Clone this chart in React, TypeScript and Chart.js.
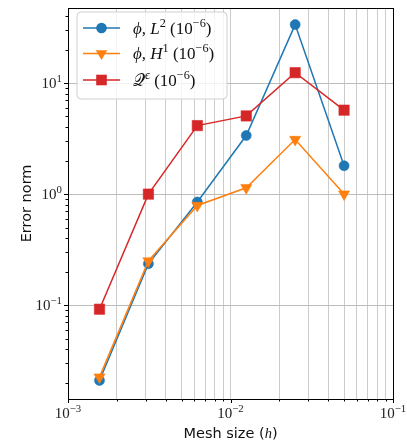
import React, { useEffect, useRef } from 'react';
import { Chart, registerables } from 'chart.js';

Chart.register(...registerables);

// ---- data ----
const meshSizes = [0.0015625, 0.003125, 0.00625, 0.0125, 0.025, 0.05];
const phiL2 = [0.021, 0.236, 0.85, 3.37, 33.6, 1.8];
const phiH1 = [0.0225, 0.25, 0.79, 1.14, 3.1, 1.0];
const qEps = [0.092, 1.0, 4.14, 5.06, 12.4, 5.7];

const xMajorExps = [-3, -2, -1];
const yMajorExps = [-1, 0, 1];
const xRange = [1e-3, 1e-1];
const yRange = [0.0143, 47.5];

const seriesColors = ['#1f77b4', '#ff7f0e', '#d62728'];

type Seg = { t: string; it?: boolean; sup?: boolean; sans?: boolean };

const legendLabels: Seg[][] = [
  [{ t: 'ϕ', it: true }, { t: ', ' }, { t: 'L', it: true }, { t: '2', sup: true }, { t: ' (10' }, { t: '−6', sup: true }, { t: ')' }],
  [{ t: 'ϕ', it: true }, { t: ', ' }, { t: 'H', it: true }, { t: '1', sup: true }, { t: ' (10' }, { t: '−6', sup: true }, { t: ')' }],
  [{ t: '𝒬', it: false }, { t: 'ϵ', sup: true, it: true }, { t: ' (10' }, { t: '−6', sup: true }, { t: ')' }],
];
const xTitle: Seg[] = [{ t: 'Mesh size (', sans: true }, { t: 'h', it: true }, { t: ')', sans: true }];
const yTitle = 'Error norm';

const SERIF = "'Liberation Serif', 'DejaVu Serif', serif";
const SANS = "'DejaVu Sans', sans-serif";

function minorValues(exps: number[]) {
  const out: number[] = [];
  for (let i = 0; i < exps.length - 1; i++) {
    for (let m = 2; m <= 9; m++) out.push(m * Math.pow(10, exps[i]));
  }
  return out;
}

function segFont(s: Seg, size: number) {
  const sz = s.sup ? size * 0.72 : size;
  return `${s.it ? 'italic ' : ''}${sz}px ${s.sans ? SANS : SERIF}`;
}

function drawSegs(ctx: CanvasRenderingContext2D, segs: Seg[], x: number, y: number, size: number, align: 'left' | 'center' | 'right') {
  ctx.save();
  ctx.textAlign = 'left';
  ctx.textBaseline = 'alphabetic';
  let w = 0;
  const widths = segs.map((s) => {
    ctx.font = segFont(s, size);
    const m = ctx.measureText(s.t).width;
    w += m;
    return m;
  });
  let cx = align === 'center' ? x - w / 2 : align === 'right' ? x - w : x;
  segs.forEach((s, i) => {
    ctx.font = segFont(s, size);
    ctx.fillText(s.t, cx, y - (s.sup ? size * 0.4 : 0));
    cx += widths[i];
  });
  ctx.restore();
}

function powSegs(e: number): Seg[] {
  return [{ t: '10' }, { t: String(e).replace('-', '−'), sup: true }];
}

function drawMarker(ctx: CanvasRenderingContext2D, kind: number, x: number, y: number, color: string) {
  ctx.save();
  ctx.fillStyle = color;
  ctx.strokeStyle = color;
  ctx.beginPath();
  if (kind === 0) {
    ctx.arc(x, y, 5.3, 0, Math.PI * 2);
  } else if (kind === 1) {
    const r = 6.6;
    ctx.moveTo(x, y + r);
    ctx.lineTo(x - r * 0.866, y - r / 2);
    ctx.lineTo(x + r * 0.866, y - r / 2);
    ctx.closePath();
  } else {
    ctx.rect(x - 5.3, y - 5.3, 10.6, 10.6);
  }
  ctx.fill();
  ctx.restore();
}

const decorPlugin = {
  id: 'decor',
  afterDraw(chart: any) {
    const ctx: CanvasRenderingContext2D = chart.ctx;
    const { left, right, top, bottom } = chart.chartArea;
    const xs = chart.scales.x;
    const ys = chart.scales.y;

    ctx.save();
    // frame
    ctx.strokeStyle = '#000';
    ctx.lineWidth = 1;
    ctx.strokeRect(Math.round(left) + 0.5, Math.round(top) + 0.5, Math.round(right - left), Math.round(bottom - top));

    // tick marks
    ctx.beginPath();
    xMajorExps.forEach((e) => {
      const px = Math.round(xs.getPixelForValue(Math.pow(10, e))) + 0.5;
      ctx.moveTo(px, bottom);
      ctx.lineTo(px, bottom + 4);
    });
    minorValues(xMajorExps).forEach((v) => {
      const px = Math.round(xs.getPixelForValue(v)) + 0.5;
      ctx.moveTo(px, bottom);
      ctx.lineTo(px, bottom + 2.5);
    });
    const yMinorExps = [-2, -1, 0, 1, 2];
    yMajorExps.forEach((e) => {
      const py = Math.round(ys.getPixelForValue(Math.pow(10, e))) + 0.5;
      ctx.moveTo(left, py);
      ctx.lineTo(left - 4, py);
    });
    minorValues(yMinorExps).forEach((v) => {
      if (v < yRange[0] || v > yRange[1]) return;
      const py = Math.round(ys.getPixelForValue(v)) + 0.5;
      ctx.moveTo(left, py);
      ctx.lineTo(left - 2.5, py);
    });
    ctx.stroke();

    // tick labels
    ctx.fillStyle = '#222';
    xMajorExps.forEach((e) => {
      const px = xs.getPixelForValue(Math.pow(10, e));
      drawSegs(ctx, powSegs(e), px, bottom + 19, 15, 'center');
    });
    yMajorExps.forEach((e) => {
      const py = ys.getPixelForValue(Math.pow(10, e));
      drawSegs(ctx, powSegs(e), left - 6, py + 5, 15, 'right');
    });

    // axis titles
    ctx.fillStyle = '#111';
    drawSegs(ctx, xTitle, (left + right) / 2, bottom + 39, 14.5, 'center');
    ctx.save();
    ctx.translate(27, (top + bottom) / 2);
    ctx.rotate(-Math.PI / 2);
    ctx.font = `14.5px ${SANS}`;
    ctx.textAlign = 'center';
    ctx.textBaseline = 'middle';
    ctx.fillText(yTitle, 0, 0);
    ctx.restore();

    // legend
    const bx = 77, by = 12, bw = 150, bh = 87;
    ctx.beginPath();
    const r = 4;
    ctx.moveTo(bx + r, by);
    ctx.arcTo(bx + bw, by, bx + bw, by + bh, r);
    ctx.arcTo(bx + bw, by + bh, bx, by + bh, r);
    ctx.arcTo(bx, by + bh, bx, by, r);
    ctx.arcTo(bx, by, bx + bw, by, r);
    ctx.closePath();
    ctx.fillStyle = 'rgba(255,255,255,0.8)';
    ctx.fill();
    ctx.strokeStyle = '#d0d0d0';
    ctx.lineWidth = 1;
    ctx.stroke();

    const rowY = [28, 53.5, 80];
    legendLabels.forEach((segs, i) => {
      const y = rowY[i];
      ctx.strokeStyle = seriesColors[i];
      ctx.lineWidth = 1.5;
      ctx.beginPath();
      ctx.moveTo(83, y);
      ctx.lineTo(120, y);
      ctx.stroke();
      drawMarker(ctx, i, 101.5, y, seriesColors[i]);
      ctx.fillStyle = '#111';
      drawSegs(ctx, segs, 133, y + 5.5, 17, 'left');
    });
    ctx.restore();
  },
};

export default function App() {
  const ref = useRef<HTMLCanvasElement | null>(null);

  useEffect(() => {
    if (!ref.current) return;
    const mk = (vals: number[]) => meshSizes.map((x, i) => ({ x, y: vals[i] }));
    const xTicks = xMajorExps.map((e) => Math.pow(10, e)).concat(minorValues(xMajorExps));
    const yTicks = yMajorExps.map((e) => Math.pow(10, e));

    const chart = new Chart(ref.current, {
      type: 'line',
      data: {
        datasets: [
          {
            label: 'phi L2',
            data: mk(phiL2),
            borderColor: seriesColors[0],
            backgroundColor: seriesColors[0],
            borderWidth: 1.5,
            pointStyle: 'circle',
            pointRadius: 5,
            pointBorderWidth: 0.6,
            order: 3,
          },
          {
            label: 'phi H1',
            data: mk(phiH1),
            borderColor: seriesColors[1],
            backgroundColor: seriesColors[1],
            borderWidth: 1.5,
            pointStyle: 'triangle',
            rotation: 180,
            pointRadius: 6.4,
            pointBorderWidth: 0.6,
            order: 2,
          },
          {
            label: 'Q eps',
            data: mk(qEps),
            borderColor: seriesColors[2],
            backgroundColor: seriesColors[2],
            borderWidth: 1.5,
            pointStyle: 'rect',
            pointRadius: 7.3,
            pointBorderWidth: 0.6,
            order: 1,
          },
        ],
      },
      options: {
        responsive: false,
        animation: false,
        layout: { padding: { top: 0, right: 14, left: 0, bottom: 0 } },
        plugins: { legend: { display: false }, tooltip: { enabled: false }, title: { display: false } },
        scales: {
          x: {
            type: 'logarithmic',
            min: xRange[0],
            max: xRange[1],
            afterBuildTicks: (s: any) => {
              s.ticks = xTicks.map((v) => ({ value: v }));
            },
            afterFit: (s: any) => {
              s.height = 49;
              s.paddingLeft = 0;
              s.paddingRight = 0;
            },
            ticks: { display: false },
            border: { display: false },
            grid: { color: '#cccccc', lineWidth: 1, drawTicks: false },
          },
          y: {
            type: 'logarithmic',
            min: yRange[0],
            max: yRange[1],
            afterBuildTicks: (s: any) => {
              s.ticks = yTicks.map((v) => ({ value: v }));
            },
            afterFit: (s: any) => {
              s.width = 68;
              s.paddingTop = 0;
              s.paddingBottom = 0;
            },
            ticks: { display: false },
            border: { display: false },
            grid: { color: '#bcbcbc', lineWidth: 1, drawTicks: false },
          },
        },
      },
      plugins: [decorPlugin],
    } as any);
    return () => chart.destroy();
  }, []);

  return (
    <div style={{ position: 'fixed', left: 0, top: 0, width: 407, height: 448, background: '#fff' }}>
      <canvas ref={ref} width={407} height={448} style={{ width: 407, height: 448, display: 'block' }} />
    </div>
  );
}
